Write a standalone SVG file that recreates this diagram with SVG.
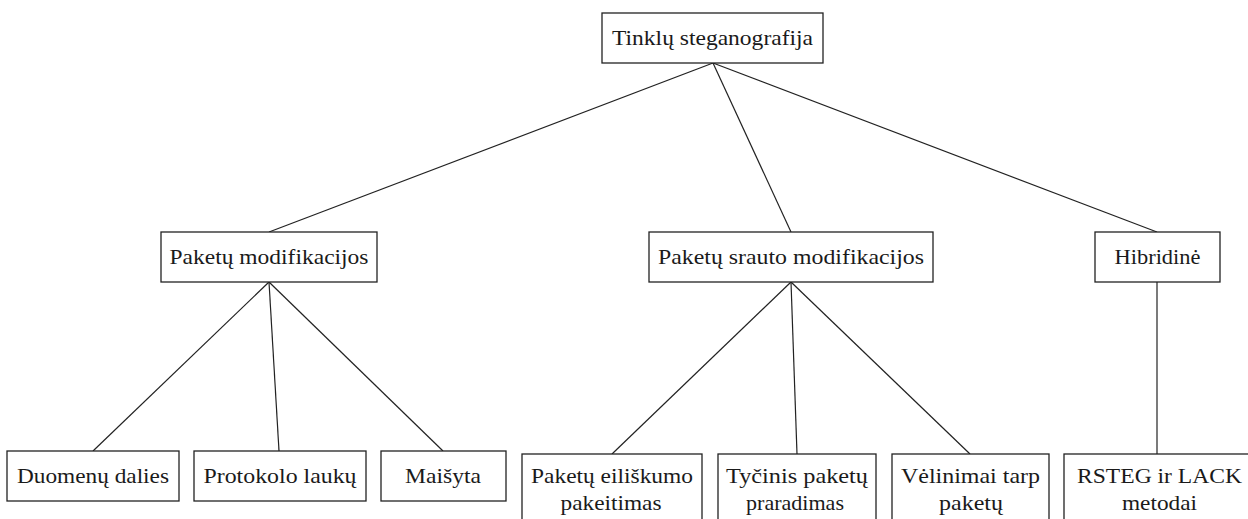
<svg xmlns="http://www.w3.org/2000/svg" width="1248" height="519" viewBox="0 0 1248 519" font-family="Liberation Serif, DejaVu Serif, serif">
  <style>
    .box { fill: #ffffff; stroke: #222222; stroke-width: 1.3; }
    .edge { stroke: #222222; stroke-width: 1.2; fill: none; }
    .lbl { font-size: 22px; fill: #1a1a1a; text-anchor: middle; }
  </style>
  <rect x="0" y="0" width="1248" height="519" fill="#ffffff"/>

  <!-- tree connectors -->
  <g id="connectors">
    <line class="edge" x1="713" y1="63" x2="269" y2="232"/>
    <line class="edge" x1="713" y1="63" x2="791" y2="232"/>
    <line class="edge" x1="713" y1="63" x2="1157" y2="232"/>
    <line class="edge" x1="269" y1="282" x2="93" y2="451"/>
    <line class="edge" x1="269" y1="282" x2="279" y2="451"/>
    <line class="edge" x1="269" y1="282" x2="443" y2="451"/>
    <line class="edge" x1="791" y1="282" x2="612" y2="454"/>
    <line class="edge" x1="791" y1="282" x2="797" y2="454"/>
    <line class="edge" x1="791" y1="282" x2="970" y2="454"/>
    <line class="edge" x1="1157" y1="282" x2="1157" y2="454"/>
  </g>

  <!-- root -->
  <g id="root">
    <rect class="box" x="602" y="13" width="221" height="50"/>
    <text class="lbl" font-family="Liberation Serif" x="712.5" y="45" textLength="201" lengthAdjust="spacingAndGlyphs">Tinklų steganografija</text>
  </g>

  <!-- second level -->
  <g id="paketu-modifikacijos">
    <rect class="box" x="161" y="232" width="216" height="50"/>
    <text class="lbl" font-family="Liberation Serif" x="269" y="264" textLength="199" lengthAdjust="spacingAndGlyphs">Paketų modifikacijos</text>
  </g>
  <g id="paketu-srauto-modifikacijos">
    <rect class="box" x="649" y="232" width="284" height="50"/>
    <text class="lbl" font-family="Liberation Serif" x="791" y="264" textLength="266" lengthAdjust="spacingAndGlyphs">Paketų srauto modifikacijos</text>
  </g>
  <g id="hibridine">
    <rect class="box" x="1095" y="232" width="125" height="50"/>
    <text class="lbl" font-family="Liberation Serif" x="1157.5" y="264" textLength="86" lengthAdjust="spacingAndGlyphs">Hibridinė</text>
  </g>

  <!-- leaves: packet modification -->
  <g id="duomenu-dalies">
    <rect class="box" x="7" y="451" width="172" height="50"/>
    <text class="lbl" font-family="Liberation Serif" x="93" y="483" textLength="152" lengthAdjust="spacingAndGlyphs">Duomenų dalies</text>
  </g>
  <g id="protokolo-lauku">
    <rect class="box" x="194" y="451" width="172" height="50"/>
    <text class="lbl" font-family="Liberation Serif" x="280" y="483" textLength="153" lengthAdjust="spacingAndGlyphs">Protokolo laukų</text>
  </g>
  <g id="maisyta">
    <rect class="box" x="381" y="451" width="125" height="50"/>
    <text class="lbl" font-family="Liberation Serif" x="443" y="483" textLength="76" lengthAdjust="spacingAndGlyphs">Maišyta</text>
  </g>

  <!-- leaves: packet flow modification -->
  <g id="eiliskumo-pakeitimas">
    <rect class="box" x="522" y="454" width="180" height="80"/>
    <text class="lbl" font-family="Liberation Serif" x="612" y="483" textLength="162" lengthAdjust="spacingAndGlyphs">Paketų eiliškumo</text>
    <text class="lbl" font-family="Liberation Serif" x="611" y="510" textLength="101" lengthAdjust="spacingAndGlyphs">pakeitimas</text>
  </g>
  <g id="tycinis-praradimas">
    <rect class="box" x="718" y="454" width="158" height="80"/>
    <text class="lbl" font-family="Liberation Serif" x="797" y="483" textLength="142" lengthAdjust="spacingAndGlyphs">Tyčinis paketų</text>
    <text class="lbl" font-family="Liberation Serif" x="795" y="510" textLength="98" lengthAdjust="spacingAndGlyphs">praradimas</text>
  </g>
  <g id="velinimai-tarp-paketu">
    <rect class="box" x="892" y="454" width="157" height="80"/>
    <text class="lbl" font-family="Liberation Serif" x="970.5" y="483" textLength="139" lengthAdjust="spacingAndGlyphs">Vėlinimai tarp</text>
    <text class="lbl" font-family="Liberation Serif" x="971" y="510" textLength="64" lengthAdjust="spacingAndGlyphs">paketų</text>
  </g>

  <!-- leaf: hybrid -->
  <g id="rsteg-lack">
    <rect class="box" x="1064" y="454" width="194" height="80"/>
    <text class="lbl" font-family="Liberation Serif" x="1159.5" y="483" textLength="165" lengthAdjust="spacingAndGlyphs">RSTEG ir LACK</text>
    <text class="lbl" font-family="Liberation Serif" x="1159.5" y="510" textLength="75" lengthAdjust="spacingAndGlyphs">metodai</text>
  </g>
</svg>
